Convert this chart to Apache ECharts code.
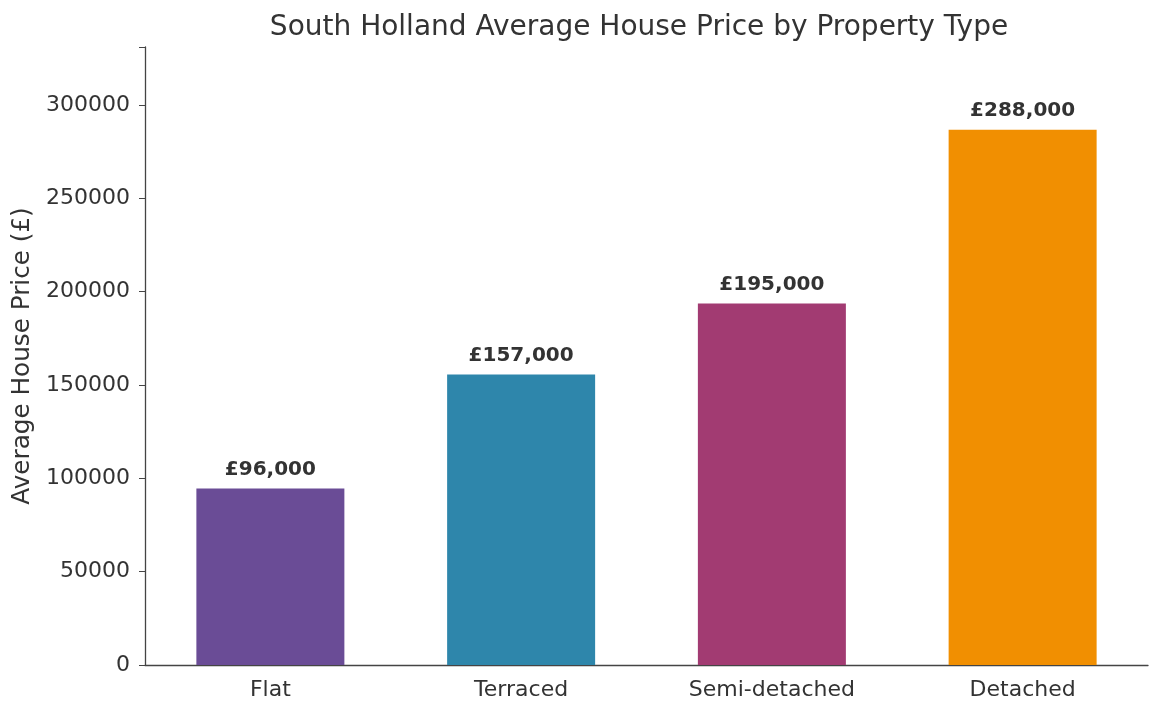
<!DOCTYPE html>
<html>
<head>
<meta charset="utf-8">
<script src="https://cdn.jsdelivr.net/npm/echarts@6/dist/echarts.min.js"></script>
<style>html,body{margin:0;padding:0;background:#fff}#c{width:1160px;height:718px}</style>
</head>
<body>
<div id="c"></div>
<script>
const categories = ['Flat', 'Terraced', 'Semi-detached', 'Detached'];
const prices = [94600, 155600, 193600, 286700];
const priceLabels = ['£96,000', '£157,000', '£195,000', '£288,000'];
const barColors = ['#6a4c96', '#2e86ab', '#a23b72', '#f18f01'];
const yTicks = [0, 50000, 100000, 150000, 200000, 250000, 300000];

const font = 'DejaVu Sans';
const chart = echarts.init(document.getElementById('c'));
chart.setOption({
  backgroundColor: '#fff',
  animation: false,
  title: {
    text: 'South Holland Average House Price by Property Type',
    left: 634, top: 9, textAlign: 'center',
    textStyle: { fontFamily: font, fontSize: 28, fontWeight: 'normal', color: '#333' }
  },
  grid: { left: 145, right: 12, top: 47, bottom: 53 },
  xAxis: {
    type: 'category',
    data: categories,
    axisLine: { lineStyle: { color: '#444', width: 1.3 } },
    axisTick: { alignWithLabel: true, length: 6, lineStyle: { color: '#444' } },
    axisLabel: { fontFamily: font, fontSize: 22, color: '#333', margin: 14 }
  },
  yAxis: {
    type: 'value',
    min: 0, max: 331000, interval: 50000,
    name: 'Average House Price (£)',
    nameLocation: 'middle',
    nameGap: 106,
    nameTextStyle: { fontFamily: font, fontSize: 24.7, color: '#333' },
    splitLine: { show: false },
    axisLine: { show: true, lineStyle: { color: '#444', width: 1.3 } },
    axisTick: { show: true, length: 6, lineStyle: { color: '#444' } },
    axisLabel: {
      fontFamily: font, fontSize: 22, color: '#333', margin: 15,
      formatter: v => yTicks.includes(v) ? String(v) : ''
    }
  },
  series: [{
    type: 'bar',
    barWidth: 148,
    data: prices.map((v, i) => ({ value: v, itemStyle: { color: barColors[i] } })),
    label: {
      show: true, position: 'top', distance: 9,
      fontFamily: font, fontSize: 20, fontWeight: 'bold', color: '#333',
      formatter: p => priceLabels[p.dataIndex]
    }
  }]
});
</script>
</body>
</html>
